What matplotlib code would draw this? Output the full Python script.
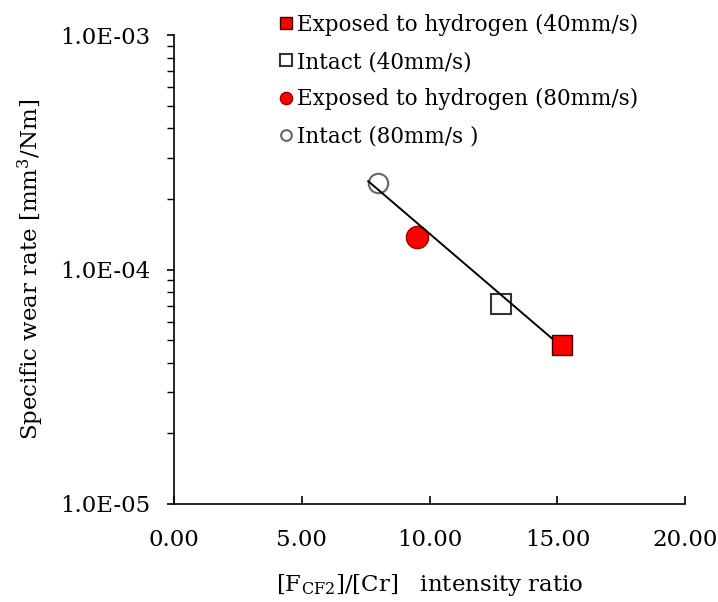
import numpy as np
import matplotlib
matplotlib.use("Agg")
import matplotlib.pyplot as plt
from matplotlib.ticker import LogLocator, FixedLocator, NullFormatter

#fonts
plt.rcParams['font.family'] = ['DejaVu Serif']
plt.rcParams['mathtext.fontset'] = 'dejavuserif'

#data
x_h40, y_h40 = [15.2], [4.75e-5]
x_i40, y_i40 = [12.8], [7.1e-5]
x_h80, y_h80 = [9.5], [1.37e-4]
x_i80, y_i80 = [8.0], [2.34e-4]
#trend line end points
trend_x = [7.6, 14.8]
trend_y = [2.38e-4, 5.07e-5]

labels = ['Exposed to hydrogen (40mm/s)', 'Intact (40mm/s)',
          'Exposed to hydrogen (80mm/s)', 'Intact (80mm/s )']
xticks = [0, 5, 10, 15, 20]

fig = plt.figure(figsize=(7.18, 6.02), dpi=100)
ax = fig.add_axes([0.2423, 0.1628, 0.712, 0.779])

#markers
ax.plot(x_h40, y_h40, 's', ms=15, mfc='#ff0000', mec='#400000', mew=1.0, ls='none', label=labels[0])
ax.plot(x_i40, y_i40, 's', ms=15, mfc='white', mec='#333333', mew=1.5, ls='none', label=labels[1])
ax.plot(x_h80, y_h80, 'o', ms=16, mfc='#ff0000', mec='#990000', mew=1.0, ls='none', label=labels[2])
ax.plot(x_i80, y_i80, 'o', ms=14, mfc='white', mec='#666666', mew=1.5, ls='none', label=labels[3])
#trend line
ax.plot(trend_x, trend_y, '-', color='black', lw=1.4, zorder=5)

ax.set_yscale('log')
ax.set_ylim(1e-5, 1e-3)
ax.set_xlim(0, 20)

ax.xaxis.set_major_locator(FixedLocator(xticks))
ax.set_xticklabels(['%.2f' % v for v in xticks])
ax.yaxis.set_minor_locator(LogLocator(base=10, subs=np.arange(2, 10), numticks=10))
ax.yaxis.set_minor_formatter(NullFormatter())
ax.set_yticks([1e-5, 1e-4, 1e-3])
ax.set_yticklabels(['1.0E-05', '1.0E-04', '1.0E-03'])

for s in ['top', 'right']:
    ax.spines[s].set_visible(False)
ax.spines['left'].set_linewidth(1.2)
ax.spines['bottom'].set_linewidth(1.2)

ax.tick_params(axis='x', direction='in', length=6, width=1.2, pad=18, labelsize=16.5)
ax.tick_params(axis='y', which='major', direction='out', length=5, width=1.2, pad=12, labelsize=16.5)
ax.tick_params(axis='y', which='minor', direction='out', length=5, width=1.0)

ax.set_ylabel('Specific wear rate [mm$^3$/Nm]', fontsize=16.5, labelpad=10)
ax.set_xlabel(r'[F$_\mathrm{CF2}$]/[Cr]   intensity ratio', fontsize=16.5, labelpad=15)

ax.legend(loc='upper left', bbox_to_anchor=(0.389, 0.977), bbox_transform=fig.transFigure,
          frameon=False, fontsize=15.5, markerscale=0.55, handlelength=0.6, handletextpad=0.2,
          labelspacing=0.7, borderpad=0, borderaxespad=0)

fig.savefig('out.png', dpi=100)
